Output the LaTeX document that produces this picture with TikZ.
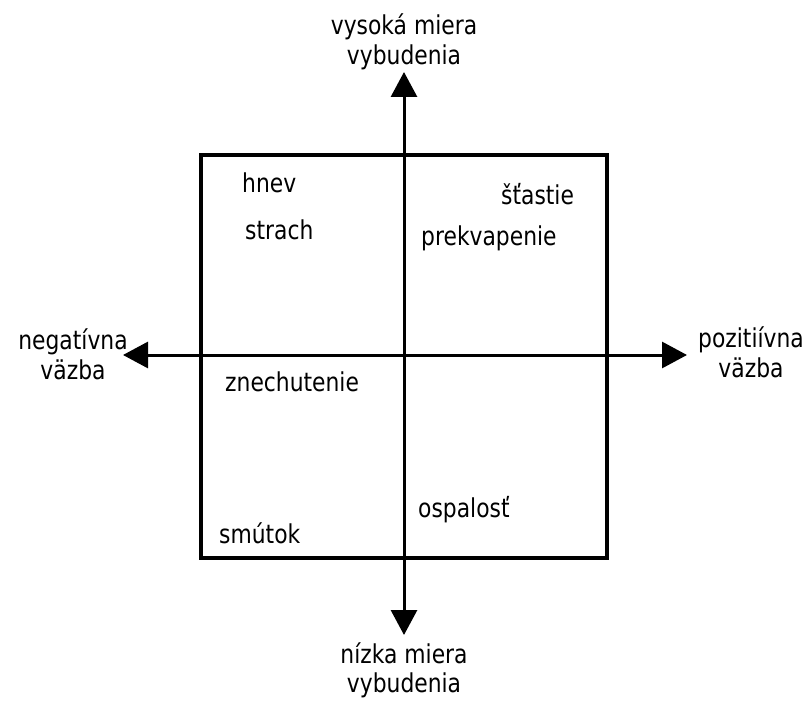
\documentclass[tikz,border=0pt]{standalone}
\usepackage{fontspec}
\setmainfont{DejaVu Sans}[FakeStretch=0.84]
\usetikzlibrary{arrows.meta,positioning}

\begin{document}
\begin{tikzpicture}[x=1pt,y=-1pt,
        axis/.style={line width=3pt,{Triangle[length=25pt,width=26pt]}-{Triangle[length=25pt,width=26pt]}},
        lbl/.style={inner sep=0pt,align=center,font=\fontsize{26}{30}\selectfont},
        emo/.style={inner sep=0pt,anchor=base west,font=\fontsize{26}{30}\selectfont}]
        \useasboundingbox (0,0) rectangle (806,703);
        \draw[line width=3.3pt] (201,155) rectangle (607,558);
        % axes
        \coordinate (up) at (404,72);
        \coordinate (down) at (404,635);
        \coordinate (left) at (123,355);
        \coordinate (right) at (687,355);
        \draw[axis] (down) -- (up);
        \draw[axis] (left) -- (right);
        \node[lbl,above=2pt of up] (high) {vysoká miera\\vybudenia};
        \node[lbl,below=8pt of down,font=\fontsize{26}{29}\selectfont] (low) {nízka miera\\vybudenia};
        \node[lbl] (neg) at (73,354) {negatívna\\väzba};
        \node[lbl] (pos) at (751,352) {pozitiívna\\väzba};
        % emotions
        \node[emo] (hnev) at (242,193) {hnev};
        \node[emo] (strach) at (245,240) {strach};
        \node[emo] (stastie) at (501,205) {šťastie};
        \node[emo] (prekv) at (421,246) {prekvapenie};
        \node[emo] (znech) at (225,391) {znechutenie};
        \node[emo] (ospal) at (418,517) {ospalosť};
        \node[emo] (smutok) at (219,543) {smútok};
    \end{tikzpicture}
\end{document}
